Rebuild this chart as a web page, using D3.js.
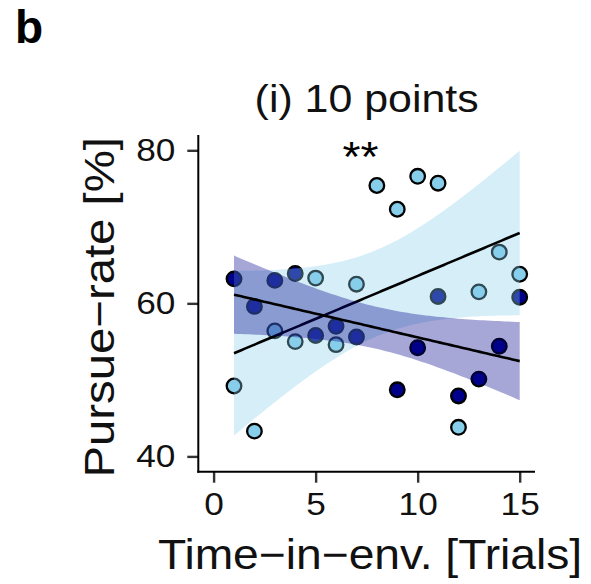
<!DOCTYPE html>
<html>
<head>
<meta charset="utf-8">
<script src="https://cdn.jsdelivr.net/npm/d3@7"></script>
<style>
  html, body { margin: 0; padding: 0; background: #fff; }
  svg { display: block; font-family: "Liberation Sans", Arial, Helvetica, sans-serif; }
</style>
</head>
<body>
<svg id="chart" width="591" height="584"></svg>
<script>
// Trials in the environment (x) and pursue-rate per trial for the two groups
const trials = [1, 2, 3, 4, 5, 6, 7, 8, 9, 10, 11, 12, 13, 14, 15];
const lightRates = [49.2, 43.3, 56.4, 55.0, 63.3, 54.6, 62.5, 75.4, 72.3, 76.6, 75.7, 43.8, 61.5, 66.7, 63.8];
const darkTrials = [1, 2, 3, 4, 5, 6, 7, 9, 10, 11, 12, 13, 14, 15];
const darkRates = [63.2, 59.6, 63.0, 63.9, 55.8, 57.0, 55.6, 48.7, 54.2, 60.9, 47.9, 50.1, 54.4, 60.8];
const xTicks = [0, 5, 10, 15];
const yTicks = [40, 60, 80];
const panelTitle = "(i) 10 points";
const panelTag = "b";
const sigLabel = "**";
const xTitle = "Time\u2212in\u2212env. [Trials]";
const yTitle = "Pursue\u2212rate [%]";

const lightCol = "#87CEEB";
const darkCol = "#00008B";
const ribbonAlpha = 0.35;
const textStretch = 1.1;

const svg = d3.select("#chart");
const padL = 198.3, padR = 535, padT = 135, padB = 471.7;

const x = d3.scaleLinear().domain([-0.75, 15.75]).range([padL, padR]);
const y = d3.scaleLinear().domain([38, 82]).range([padB, padT]);

// Ordinary least squares fit with a 95% confidence band
const tCrit = {11: 2.201, 12: 2.179, 13: 2.160, 14: 2.145};
function lmBand(xs, ys) {
  const n = xs.length;
  const mx = d3.mean(xs), my = d3.mean(ys);
  let sxx = 0, sxy = 0;
  xs.forEach((xi, i) => { sxx += (xi - mx) ** 2; sxy += (xi - mx) * (ys[i] - my); });
  const b = sxy / sxx, a = my - b * mx;
  let sse = 0;
  xs.forEach((xi, i) => { sse += (ys[i] - (a + b * xi)) ** 2; });
  const s = Math.sqrt(sse / (n - 2));
  const t = tCrit[n - 2];
  const [x0, x1] = d3.extent(xs);
  return d3.range(80).map(k => {
    const xv = x0 + (x1 - x0) * k / 79;
    const fit = a + b * xv;
    const se = s * Math.sqrt(1 / n + (xv - mx) ** 2 / sxx);
    return {x: xv, fit, lo: fit - t * se, hi: fit + t * se};
  });
}

function stretchText(sel) {
  sel.each(function () {
    const t = d3.select(this);
    const tx = +t.attr("x") || 0, ty = +t.attr("y") || 0;
    t.attr("x", 0).attr("y", 0)
     .attr("transform", `translate(${tx},${ty}) scale(${textStretch},1)`);
  });
}

// Points
const lightPts = trials.map((t, i) => ({x: t, y: lightRates[i], c: lightCol}));
const darkPts = darkTrials.map((t, i) => ({x: t, y: darkRates[i], c: darkCol}));
svg.append("g").selectAll("circle")
  .data(lightPts.concat(darkPts))
  .join("circle")
  .attr("cx", d => x(d.x)).attr("cy", d => y(d.y))
  .attr("r", 7.3)
  .attr("fill", d => d.c)
  .attr("stroke", "#000").attr("stroke-width", 2.3);

// Fitted lines with confidence ribbons, one group after the other
const area = d3.area().x(d => x(d.x)).y0(d => y(d.lo)).y1(d => y(d.hi));
const line = d3.line().x(d => x(d.x)).y(d => y(d.fit));
[[trials, lightRates, lightCol], [darkTrials, darkRates, darkCol]].forEach(([xs, ys, col]) => {
  const band = lmBand(xs, ys);
  svg.append("path").attr("d", area(band)).attr("fill", col).attr("fill-opacity", ribbonAlpha);
  svg.append("path").attr("d", line(band)).attr("fill", "none")
    .attr("stroke", "#000").attr("stroke-width", 2.6);
});

// Axes
const yAxis = svg.append("g").attr("transform", `translate(${padL},0)`)
  .call(d3.axisLeft(y).tickValues(yTicks).tickSize(11).tickPadding(12).tickSizeOuter(0));
const xAxis = svg.append("g").attr("transform", `translate(0,${padB})`)
  .call(d3.axisBottom(x).tickValues(xTicks).tickSize(11).tickPadding(10).tickSizeOuter(0));
[yAxis, xAxis].forEach(g => {
  g.select(".domain").remove();
  g.selectAll(".tick line").attr("stroke", "#333").attr("stroke-width", 2.4);
  g.selectAll(".tick text").attr("fill", "#111").attr("font-size", 32)
    .attr("font-family", "'Liberation Sans', Arial, sans-serif");
});
stretchText(yAxis.selectAll(".tick text"));
stretchText(xAxis.selectAll(".tick text"));
svg.append("line").attr("x1", padL).attr("x2", padL).attr("y1", padT).attr("y2", padB + 1)
  .attr("stroke", "#000").attr("stroke-width", 2);
svg.append("line").attr("x1", padL - 1).attr("x2", padR).attr("y1", padB).attr("y2", padB)
  .attr("stroke", "#000").attr("stroke-width", 2);

// Titles and labels
svg.append("text").text(panelTag)
  .attr("x", 15).attr("y", 43).attr("font-size", 46).attr("font-weight", "bold").attr("fill", "#000");
svg.append("text").text(panelTitle)
  .attr("text-anchor", "middle").attr("font-size", 39).attr("fill", "#111")
  .attr("transform", `translate(${(padL + padR) / 2},112) scale(${textStretch},1)`);
svg.append("text").text(sigLabel)
  .attr("text-anchor", "middle").attr("font-size", 42).attr("fill", "#000")
  .attr("transform", `translate(${x(7.2)},${y(80) + 21}) scale(${textStretch},1)`);
svg.append("text").text(xTitle)
  .attr("text-anchor", "middle").attr("font-size", 42).attr("fill", "#111")
  .attr("transform", `translate(370,569) scale(${textStretch},1)`);
svg.append("text").text(yTitle)
  .attr("text-anchor", "middle").attr("font-size", 43).attr("fill", "#111")
  .attr("transform", `translate(114,${(padT + padB) / 2 + 4}) rotate(-90) scale(${textStretch},1)`);
</script>
</body>
</html>
